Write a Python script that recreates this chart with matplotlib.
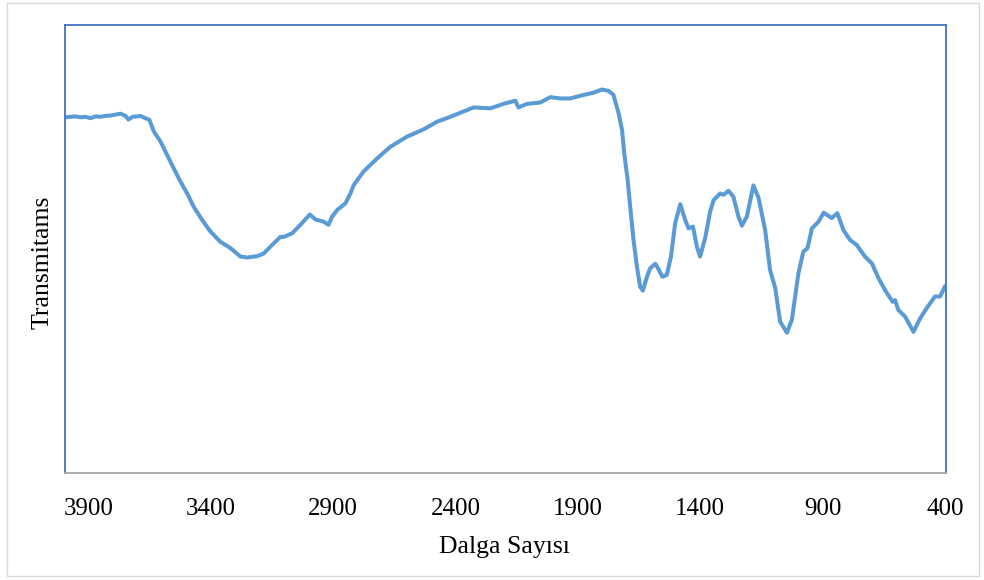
import matplotlib
matplotlib.use("Agg")
import matplotlib.pyplot as plt
from matplotlib.patches import Rectangle

# wavenumber (cm-1) and transmittance (arbitrary units)
wavenumber = [3994, 3974, 3953, 3933, 3912, 3892, 3871, 3851, 3831, 3810,
              3790, 3769, 3749, 3737, 3720, 3704, 3688, 3667, 3651, 3633,
              3606, 3579, 3552, 3524, 3497, 3470, 3436, 3402, 3361, 3320,
              3279, 3252, 3211, 3184, 3150, 3116, 3102, 3068, 3034, 2996,
              2973, 2953, 2939, 2919, 2905, 2884, 2850, 2830, 2816, 2776,
              2721, 2667, 2598, 2531, 2476, 2422, 2381, 2326, 2258, 2204,
              2156, 2143, 2108, 2054, 2013, 1972, 1932, 1891, 1836, 1802,
              1775, 1755, 1734, 1720, 1711, 1697, 1684, 1673, 1659, 1646,
              1635, 1618, 1605, 1584, 1571, 1555, 1537, 1520, 1503, 1482,
              1462, 1448, 1430, 1414, 1401, 1380, 1360, 1346, 1319, 1305,
              1285, 1265, 1244, 1230, 1210, 1183, 1162, 1135, 1115, 1094,
              1074, 1046, 1026, 999, 979, 962, 944, 917, 896, 863,
              840, 815, 788, 761, 727, 699, 672, 645, 614, 604,
              591, 563, 529, 502, 475, 441, 420, 400]
transmittance = [79.4, 79.5, 79.6, 79.4, 79.5, 79.2, 79.6, 79.5, 79.7, 79.8,
                 80.0, 80.2, 79.7, 78.9, 79.5, 79.6, 79.7, 79.2, 78.8, 76.2,
                 74.0, 71.0, 68.0, 65.0, 62.4, 59.4, 56.5, 53.9, 51.6, 50.2,
                 48.3, 48.1, 48.4, 49.0, 50.9, 52.7, 52.7, 53.5, 55.4, 57.7,
                 56.6, 56.3, 56.1, 55.4, 57.2, 58.7, 60.2, 62.4, 64.3, 67.3,
                 70.2, 72.8, 75.1, 76.7, 78.4, 79.5, 80.4, 81.6, 81.4, 82.4,
                 83.1, 81.6, 82.4, 82.7, 83.9, 83.6, 83.6, 84.2, 84.9, 85.6,
                 85.3, 84.4, 80.3, 76.6, 71.4, 65.4, 58.0, 52.0, 46.0, 41.6,
                 40.7, 43.8, 45.7, 46.7, 45.5, 43.8, 44.2, 48.3, 55.7, 60.0,
                 56.5, 54.6, 55.0, 50.5, 48.3, 52.5, 58.3, 60.9, 62.4, 62.1,
                 63.0, 61.7, 57.2, 55.2, 57.2, 64.2, 61.4, 54.2, 45.3, 41.3,
                 33.8, 31.3, 34.2, 44.6, 49.4, 50.2, 54.6, 56.1, 58.1, 56.9,
                 58.0, 54.2, 52.0, 50.9, 48.3, 46.8, 43.5, 40.8, 38.2, 38.6,
                 36.4, 34.9, 31.5, 34.5, 36.8, 39.4, 39.4, 41.7]

tick_values = [3900, 3400, 2900, 2400, 1900, 1400, 900, 400]

plt.rcParams["font.family"] = ["Liberation Serif", "DejaVu Serif"]

fig = plt.figure(figsize=(9.84, 5.8), dpi=100)
ax = fig.add_axes([0.0661, 0.1845, 0.8953, 0.7724])

ax.plot(wavenumber, transmittance, color="#5B9BD5", linewidth=2.9,
        solid_joinstyle="round", solid_capstyle="round")

ax.set_xlim(3996, 396)
ax.set_ylim(0, 100)
ax.set_xticks(tick_values)
ax.set_xticklabels([str(v) for v in tick_values])
ax.set_yticks([])
ax.tick_params(axis="x", length=0, pad=18, labelsize=18)

for side in ["left", "top", "right"]:
    ax.spines[side].set_color("#4472C4")
    ax.spines[side].set_linewidth(1.3)
ax.spines["bottom"].set_color("#A6A6A6")
ax.spines["bottom"].set_linewidth(1.3)

fig.text(0.513, 0.057, "Dalga Sayısı", ha="center", va="center", fontsize=18.5)
fig.text(0.043, 0.548, "Transmitams", ha="center", va="center",
         rotation=90, fontsize=18.5)

# light frame round the whole chart
fig.patches.append(Rectangle((0.007, 0.007), 0.988, 0.988,
                             transform=fig.transFigure, fill=False,
                             edgecolor="#D9D9D9", linewidth=1.0))

fig.savefig("out.png", dpi=100)
